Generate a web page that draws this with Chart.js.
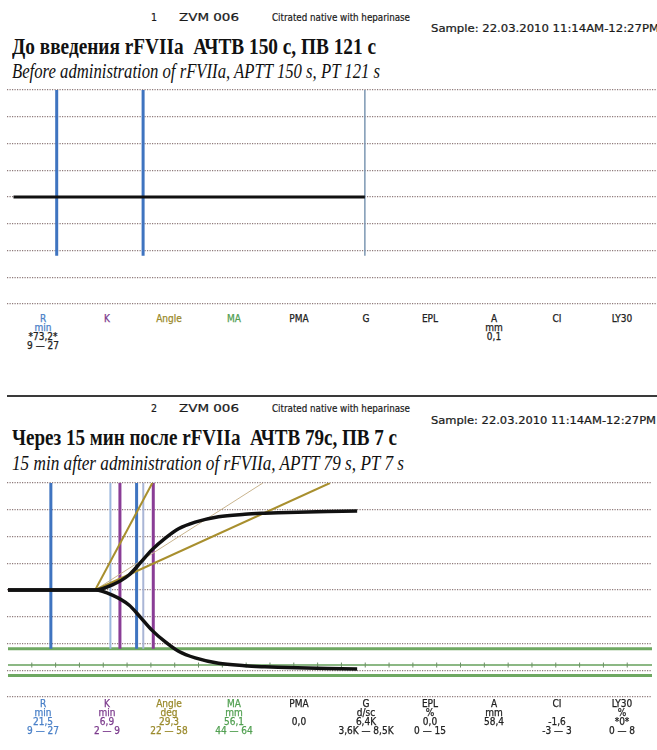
<!DOCTYPE html>
<html>
<head>
<meta charset="utf-8">
<script src="https://cdn.jsdelivr.net/npm/chart.js@4"></script>
<style>
body{margin:0;width:657px;height:750px;position:relative;background:#fff;overflow:hidden;font-family:"DejaVu Sans Condensed","DejaVu Sans",sans-serif;color:#222}
.t{position:absolute;white-space:pre;transform-origin:0 0;line-height:1}
.sm{font-size:10.5px;color:#1a1a1a;-webkit-text-stroke:0.2px #1a1a1a}
.bold{font-family:"Liberation Serif",serif;font-weight:bold;font-size:24px;color:#111}
.ital{font-family:"Liberation Serif",serif;font-style:italic;font-size:22px;color:#111}
.cell{position:absolute;width:80px;text-align:center;font-size:10px;line-height:1;white-space:nowrap;-webkit-text-stroke:0.25px currentColor}
canvas{position:absolute;left:0}
#sep{position:absolute;left:7px;top:395px;width:650px;height:2px;background:#3a3a3a}
</style>
</head>
<body>
<div class="t sm" style="left:151px;top:12px">1</div>
<div class="t sm" data-w="60" style="left:179px;top:12px">ZVM 006</div>
<div class="t sm" data-w="138" style="left:272px;top:12px">Citrated native with heparinase</div>
<div class="t sm" data-w="228" style="left:431px;top:23px">Sample: 22.03.2010 11:14AM-12:27PM</div>
<div class="t bold" data-w="364" style="left:12px;top:34px">До введения rFVIIa  АЧТВ 150 с, ПВ 121 с</div>
<div class="t ital" data-w="368" style="left:12px;top:60px">Before administration of rFVIIa, APTT 150 s, PT 121 s</div>
<canvas id="c1" width="657" height="225" style="top:85px"></canvas>

<div id="sep"></div>

<div class="t sm" style="left:151px;top:403px">2</div>
<div class="t sm" data-w="60" style="left:179px;top:403px">ZVM 006</div>
<div class="t sm" data-w="138" style="left:272px;top:403px">Citrated native with heparinase</div>
<div class="t sm" data-w="225" style="left:431px;top:415px">Sample: 22.03.2010 11:14AM-12:27PM</div>
<div class="t bold" data-w="385" style="left:12px;top:425px">Через 15 мин после rFVIIa  АЧТВ 79с, ПВ 7 с</div>
<div class="t ital" data-w="392" style="left:12px;top:452px">15 min after administration of rFVIIa, APTT 79 s, PT 7 s</div>
<canvas id="c2" width="657" height="225" style="top:478px"></canvas>

<div id="tab1"></div>
<div id="tab2"></div>

<script>
// trace 1: flat line, no clot formed (minutes / mm)
const time1 = [0, 73.2];
const amp1 = [0, 0];
const rValue1 = 73.2;

// trace 2: upper half of the TEG trace, lower half is its mirror
const time2 = [0, 18.3, 21.9, 25.4, 27.9, 30.2, 33.1, 35.8, 39.3, 44.2, 49.7, 53.9, 56.7, 60.8, 67.1, 73.3];
const amp2 = [0, 0, 1.9, 5.6, 10.4, 15.0, 19.5, 22.9, 25.4, 27.4, 28.3, 28.7, 28.9, 29.1, 29.3, 29.5];

const rLimits = [9, 27];          // R normal range, min
const rkLines2 = [21.5, 28.4];    // R and R+K
const kLimits2 = [23.5, 30.5];    // R+2 .. R+9
const angleOrigin = [18.3, 0];
const angleLimitEnds = [30.3, 67.6]; // where the 58 / 22 deg lines reach +40 mm
const angleMeasuredEnd = 53.5;
const maLines = [-22, -28.05, -32]; // MA low, measured, high (half amplitude)
const timeTicks = [5,10,15,20,25,30,35,40,45,50,55,60,65,70,75,80,85,90,95,100,105,110,115,120,125,130];
const markerTop = 40, markerBottom = -22;

const names = ['R','K','Angle','MA','PMA','G','EPL','A','CI','LY30'];
const colColors = ['#4a80c8','#7b3a8c','#9a8a2c','#52a052','#222','#222','#222','#222','#222','#222'];
const colX = [43, 107, 169, 234, 299, 366, 430, 494, 557, 622];
const units1 = ['min','','','','','','','mm','',''];
const values1 = ['*73,2*','','','','','','','0,1','',''];
const ranges1 = ['9 — 27','','','','','','','','',''];
const units2 = ['min','min','deg','mm','','d/sc','%','mm','','%'];
const values2 = ['21,5','6,9','29,3','56,1','0,0','6,4K','0,0','58,4','-1,6','*0*'];
const ranges2 = ['9 — 27','2 — 9','22 — 58','44 — 64','','3,6K — 8,5K','0 — 15','','-3 — 3','0 — 8'];

function line(pts, color, width, extra) {
  return Object.assign({data: pts, showLine: true, borderColor: color, borderWidth: width, pointRadius: 0, fill: false}, extra || {});
}
function vline(x, color, width) {
  return line([{x: x, y: markerTop}, {x: x, y: markerBottom}], color, width);
}

function makeChart(id, xMin, xMax, datasets) {
  return new Chart(document.getElementById(id), {
    type: 'scatter',
    data: {datasets: datasets},
    options: {
      responsive: false, animation: false, devicePixelRatio: 1,
      layout: {padding: {left: 7, right: 0, top: 5, bottom: 6}},
      plugins: {legend: {display: false}, tooltip: {enabled: false}},
      scales: {
        x: {type: 'linear', min: xMin, max: xMax, display: false},
        y: {min: -40, max: 40, ticks: {display: false, stepSize: 10},
            grid: {color: '#8e7a7a', lineWidth: 1.2, drawTicks: false},
            border: {display: false, dash: [1.2, 1.3]}}
      }
    }
  });
}

// panel 1
const ds1 = [
  line(time1.map((t, i) => ({x: t, y: amp1[i]})), '#111', 3),
  vline(rValue1, '#7d98b3', 1.5),
  vline(rLimits[0], '#3f74c0', 3),
  vline(rLimits[1], '#3f74c0', 3)
];
makeChart('c1', -1.354, 134.06, ds1);

// panel 2
const upper = time2.map((t, i) => ({x: t, y: amp2[i]}));
const lower = time2.map((t, i) => ({x: t, y: -amp2[i]}));
const ds2 = [
  line(upper, '#111', 3.5, {cubicInterpolationMode: 'monotone'}),
  line(lower, '#111', 3.5, {cubicInterpolationMode: 'monotone'}),
  line([{x: angleOrigin[0], y: angleOrigin[1]}, {x: angleLimitEnds[0], y: markerTop}], '#a88f2e', 2),
  line([{x: angleOrigin[0], y: angleOrigin[1]}, {x: angleLimitEnds[1], y: markerTop}], '#a88f2e', 2),
  line([{x: angleOrigin[0], y: angleOrigin[1]}, {x: angleMeasuredEnd, y: markerTop}], '#c9b48e', 1),
  vline(kLimits2[0], '#8a3d96', 3),
  vline(kLimits2[1], '#8a3d96', 3),
  vline(rLimits[0], '#3f74c0', 3),
  vline(rLimits[1], '#3f74c0', 3),
  vline(rkLines2[0], '#9cb8de', 2),
  vline(rkLines2[1], '#aab6d6', 2),
  {data: timeTicks.map(t => ({x: t, y: maLines[1]})), showLine: false, pointStyle: 'line', rotation: 90,
   pointRadius: 2.5, borderColor: '#6c8f66', borderWidth: 1},
  line([{x: 0, y: maLines[0]}, {x: 140, y: maLines[0]}], '#6fa862', 3),
  line([{x: 0, y: maLines[1]}, {x: 140, y: maLines[1]}], '#8cb884', 2),
  line([{x: 0, y: maLines[2]}, {x: 140, y: maLines[2]}], '#6fa862', 3)
];
makeChart('c2', -0.208, 135.2, ds2);

// parameter tables
function table(el, rowY, units, values, ranges, panel) {
  const host = document.getElementById(el);
  names.forEach((n, i) => {
    const rows = [n, units[i], values[i], ranges[i]];
    rows.forEach((txt, r) => {
      if (!txt) return;
      const d = document.createElement('div');
      d.className = 'cell';
      d.textContent = txt;
      d.style.left = (colX[i] - 40) + 'px';
      d.style.top = (rowY[r] - 5) + 'px';
      let c = colColors[i];
      if (panel === 1 && r >= 2) c = '#222';
      d.style.color = c;
      host.appendChild(d);
    });
  });
}
table('tab1', [319, 328, 337, 346], units1, values1, ranges1, 1);
table('tab2', [704, 713, 722, 731], units2, values2, ranges2, 2);

// squeeze header texts to the widths seen in the printout
document.querySelectorAll('[data-w]').forEach(el => {
  const w = el.getBoundingClientRect().width;
  el.style.transform = 'scaleX(' + (parseFloat(el.dataset.w) / w) + ')';
});
</script>
</body>
</html>
